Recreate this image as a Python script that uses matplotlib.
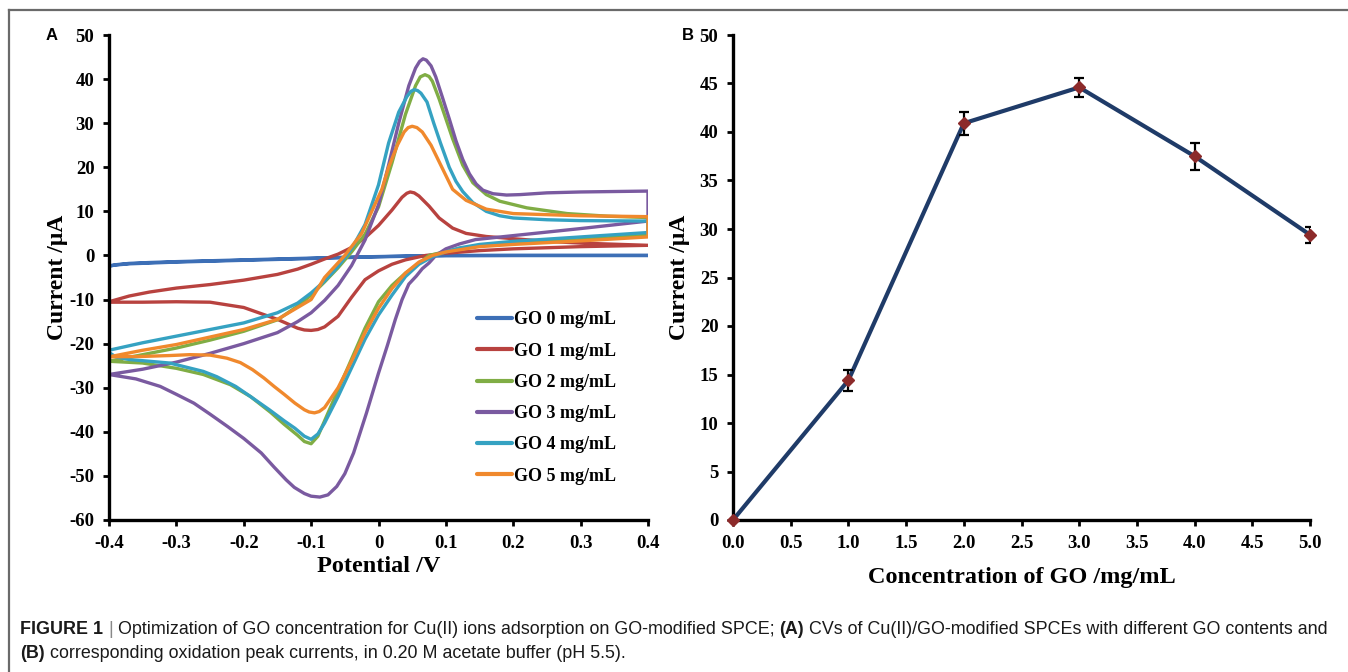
import numpy as np
import matplotlib
matplotlib.use("Agg")
import matplotlib.pyplot as plt
from matplotlib.lines import Line2D

plt.rcParams["axes.unicode_minus"] = False

# ---------- panel A: cyclic voltammograms (forward + reverse scan) ----------
labels_A = ["GO 0 mg/mL", "GO 1 mg/mL", "GO 2 mg/mL", "GO 3 mg/mL", "GO 4 mg/mL", "GO 5 mg/mL"]
colors_A = ["#3d6fb6", "#b8423f", "#80ad45", "#7a5aa0", "#35a2c2", "#f0892d"]

go0_fwd_E = [-0.40, -0.39, -0.37, -0.34, -0.30, -0.25, -0.20, -0.15, -0.10, -0.05, 0.00, 0.05, 0.10, 0.20, 0.30, 0.40]
go0_fwd_I = [-2.5, -2.1, -1.8, -1.6, -1.4, -1.2, -1.0, -0.8, -0.6, -0.4, -0.25, -0.1, 0.0, 0.0, 0.0, 0.0]
go0_rev_E = [0.40, 0.30, 0.20, 0.10, 0.00, -0.10, -0.20, -0.30, -0.37, -0.40]
go0_rev_I = [0.0, 0.0, 0.0, -0.05, -0.3, -0.7, -1.1, -1.5, -1.9, -2.3]

go1_fwd_E = [-0.40, -0.37, -0.34, -0.30, -0.25, -0.20, -0.15, -0.12, -0.10, -0.08, -0.06, -0.04, -0.02, 0.00,
             0.02, 0.035, 0.042, 0.047, 0.053, 0.06, 0.075, 0.09, 0.11, 0.13, 0.16, 0.20, 0.25, 0.30, 0.40]
go1_fwd_I = [-10.5, -9.2, -8.3, -7.4, -6.6, -5.6, -4.3, -3.1, -2.0, -0.8, 0.3, 1.8, 4.0, 6.8,
             10.3, 13.2, 14.1, 14.4, 14.2, 13.5, 11.2, 8.5, 6.2, 5.0, 4.3, 3.8, 3.2, 2.8, 2.3]
go1_rev_E = [0.40, 0.30, 0.20, 0.15, 0.10, 0.07, 0.04, 0.02, 0.00, -0.02, -0.04, -0.06, -0.08, -0.09, -0.10,
             -0.11, -0.12, -0.15, -0.20, -0.25, -0.30, -0.35, -0.40]
go1_rev_I = [2.3, 2.0, 1.5, 1.1, 0.5, 0.0, -1.0, -2.0, -3.5, -5.5, -9.5, -13.8, -16.2, -16.8, -17.0,
             -16.9, -16.5, -14.5, -11.8, -10.6, -10.5, -10.6, -10.6]

go2_fwd_E = [-0.40, -0.35, -0.30, -0.25, -0.20, -0.15, -0.12, -0.10, -0.08, -0.06, -0.04, -0.02, 0.00, 0.02,
             0.04, 0.055, 0.062, 0.069, 0.075, 0.08, 0.09, 0.10, 0.11, 0.125, 0.14, 0.16, 0.18, 0.22, 0.28,
             0.34, 0.40]
go2_fwd_I = [-24.0, -22.5, -21.0, -19.2, -17.2, -14.6, -11.5, -9.0, -6.0, -2.8, 0.8, 4.8, 11.0, 21.0,
             32.0, 38.5, 40.5, 41.0, 40.6, 39.5, 35.5, 31.0, 26.5, 20.5, 16.5, 13.8, 12.3, 10.8, 9.5,
             8.9, 8.6]
go2_rev_E = [0.40, 0.30, 0.20, 0.15, 0.12, 0.10, 0.075, 0.06, 0.04, 0.02, 0.00, -0.02, -0.04, -0.06, -0.08,
             -0.09, -0.10, -0.11, -0.12, -0.14, -0.16, -0.19, -0.22, -0.26, -0.30, -0.35, -0.40]
go2_rev_I = [4.6, 3.6, 2.8, 2.2, 1.6, 0.9, 0.0, -1.8, -4.0, -6.8, -10.5, -16.5, -23.5, -30.5, -37.5,
             -41.0, -42.7, -42.2, -40.8, -38.3, -35.6, -32.0, -29.3, -27.0, -25.6, -24.4, -24.0]

go3_fwd_E = [-0.40, -0.35, -0.30, -0.25, -0.20, -0.15, -0.12, -0.10, -0.08, -0.06, -0.04, -0.02, 0.00, 0.015,
             0.03, 0.045, 0.055, 0.061, 0.066, 0.071, 0.078, 0.085, 0.095, 0.105, 0.115, 0.125, 0.135, 0.145,
             0.155, 0.17, 0.19, 0.21, 0.25, 0.30, 0.40]
go3_fwd_I = [-27.0, -25.8, -24.2, -22.2, -20.0, -17.5, -15.0, -13.0, -10.2, -6.8, -2.3, 3.5, 11.5, 20.5,
             30.0, 38.5, 42.5, 44.0, 44.6, 44.3, 43.0, 40.5, 35.8, 31.0, 26.0, 21.8, 18.5, 16.2,
             14.8, 14.0, 13.7, 13.8, 14.2, 14.4, 14.6]
go3_rev_E = [0.40, 0.30, 0.20, 0.144, 0.12, 0.10, 0.085, 0.075, 0.065, 0.056, 0.045, 0.035, 0.025, 0.013, 0.00,
             -0.018, -0.037, -0.05, -0.062, -0.075, -0.087, -0.10, -0.11, -0.125, -0.137, -0.155, -0.174,
             -0.20, -0.224, -0.25, -0.274, -0.30, -0.324, -0.36, -0.40]
go3_rev_I = [7.8, 6.1, 4.5, 3.6, 2.6, 1.5, 0.0, -1.7, -3.0, -4.7, -6.5, -10.0, -14.5, -20.5, -26.7,
             -35.8, -44.8, -49.5, -52.4, -54.3, -54.8, -54.6, -54.0, -52.6, -50.9, -48.0, -44.8,
             -41.5, -38.8, -36.0, -33.5, -31.5, -29.7, -28.0, -27.0]

go4_fwd_E = [-0.40, -0.35, -0.30, -0.25, -0.20, -0.15, -0.12, -0.10, -0.08, -0.06, -0.04, -0.02, 0.00, 0.015,
             0.03, 0.042, 0.048, 0.053, 0.058, 0.063, 0.072, 0.082, 0.092, 0.105, 0.115, 0.125, 0.14, 0.16,
             0.18, 0.20, 0.25, 0.30, 0.40]
go4_fwd_I = [-21.5, -19.8, -18.3, -16.8, -15.3, -13.0, -10.8, -8.5, -5.8, -2.5, 1.5, 7.0, 16.0, 25.5,
             32.5, 36.0, 37.2, 37.6, 37.4, 36.8, 34.8, 30.0, 25.5, 20.0, 16.8, 14.5, 12.0, 10.0,
             9.0, 8.5, 8.1, 7.9, 7.8]
go4_rev_E = [0.40, 0.30, 0.20, 0.15, 0.12, 0.10, 0.08, 0.06, 0.04, 0.02, 0.00, -0.02, -0.04, -0.06, -0.08,
             -0.09, -0.10, -0.11, -0.124, -0.14, -0.162, -0.19, -0.212, -0.24, -0.26, -0.31, -0.37, -0.39, -0.40]
go4_rev_I = [5.2, 4.2, 3.2, 2.5, 1.7, 0.8, -0.3, -2.0, -4.8, -9.0, -13.5, -19.0, -25.5, -32.0, -38.0,
             -40.5, -41.7, -41.0, -39.2, -37.5, -35.0, -32.0, -29.7, -27.5, -26.3, -24.4, -23.6, -23.0, -22.0]

go5_fwd_E = [-0.40, -0.35, -0.30, -0.25, -0.20, -0.15, -0.12, -0.10, -0.08, -0.05, -0.025, -0.01, 0.005, 0.015,
             0.028, 0.038, 0.044, 0.05, 0.057, 0.065, 0.078, 0.094, 0.11, 0.13, 0.16, 0.20, 0.30, 0.40]
go5_fwd_I = [-23.0, -21.5, -20.2, -18.5, -16.8, -14.5, -11.8, -10.0, -5.0, 0.0, 5.0, 10.0, 15.0, 20.0,
             25.0, 28.0, 29.0, 29.3, 29.0, 28.0, 25.0, 20.0, 15.0, 12.5, 10.5, 9.5, 9.0, 8.8]
go5_rev_E = [0.40, 0.30, 0.20, 0.15, 0.10, 0.08, 0.06, 0.04, 0.02, 0.00, -0.02, -0.04, -0.06, -0.08, -0.088,
             -0.095, -0.103, -0.11, -0.124, -0.14, -0.155, -0.17, -0.187, -0.205, -0.225, -0.25, -0.28, -0.31,
             -0.35, -0.40]
go5_rev_I = [4.2, 3.3, 2.5, 2.0, 0.8, 0.0, -1.5, -4.0, -7.5, -12.0, -17.5, -24.0, -30.0, -34.5, -35.4,
             -35.7, -35.5, -35.0, -33.5, -31.5, -29.7, -27.8, -25.9, -24.3, -23.3, -22.6, -22.5, -22.7,
             -22.9, -23.0]

xticks_A = [-0.4, -0.3, -0.2, -0.1, 0.0, 0.1, 0.2, 0.3, 0.4]
xticklabels_A = ["-0.4", "-0.3", "-0.2", "-0.1", "0", "0.1", "0.2", "0.3", "0.4"]
yticks_A = [-60, -50, -40, -30, -20, -10, 0, 10, 20, 30, 40, 50]

# ---------- panel B: oxidation peak current vs GO concentration ----------
conc = [0.0, 1.0, 2.0, 3.0, 4.0, 5.0]
peak = [0.0, 14.4, 40.9, 44.6, 37.5, 29.4]
peak_err = [0.0, 1.1, 1.2, 1.0, 1.4, 0.8]

caption_1 = [("FIGURE 1", "bold"), ("|", "light"),
             ("Optimization of GO concentration for Cu(II) ions adsorption on GO-modified SPCE;", "normal"),
             ("(A)", "bold"), ("CVs of Cu(II)/GO-modified SPCEs with different GO contents and", "normal")]
caption_2 = [("(B)", "bold"), ("corresponding oxidation peak currents, in 0.20 M acetate buffer (pH 5.5).", "normal")]

curves = [
    (go0_fwd_E, go0_fwd_I, go0_rev_E, go0_rev_I),
    (go1_fwd_E, go1_fwd_I, go1_rev_E, go1_rev_I),
    (go2_fwd_E, go2_fwd_I, go2_rev_E, go2_rev_I),
    (go3_fwd_E, go3_fwd_I, go3_rev_E, go3_rev_I),
    (go4_fwd_E, go4_fwd_I, go4_rev_E, go4_rev_I),
    (go5_fwd_E, go5_fwd_I, go5_rev_E, go5_rev_I),
]

serif = "Liberation Serif"
sans = "Liberation Sans"

fig = plt.figure(figsize=(13.48, 6.72), dpi=100)
W, H = 1348.0, 672.0

def style_axes(ax):
    for s in ["top", "right"]:
        ax.spines[s].set_visible(False)
    for s in ["left", "bottom"]:
        ax.spines[s].set_linewidth(2.4)
    ax.tick_params(direction="out", length=4.5, width=2.0, labelsize=13.5)
    ax.tick_params(axis="y", pad=6)
    ax.tick_params(axis="x", pad=6)
    for t in ax.get_xticklabels() + ax.get_yticklabels():
        t.set_fontfamily(serif)
        t.set_fontweight("bold")

# panel A
axA = fig.add_axes([109 / W, 1 - 520 / H, (648 - 109) / W, (520 - 35) / H])
for (fE, fI, rE, rI), c, lab in zip(curves, colors_A, labels_A):
    E = np.concatenate([fE, rE])
    I = np.concatenate([fI, rI])
    axA.plot(E, I, color=c, lw=2.4, solid_joinstyle="round", solid_capstyle="round", label=lab)
axA.set_xlim(-0.4, 0.4)
axA.set_ylim(-60, 50)
axA.set_xticks(xticks_A)
axA.set_xticklabels(xticklabels_A)
axA.set_yticks(yticks_A)
style_axes(axA)
axA.set_xlabel("Potential /V", fontfamily=serif, fontweight="bold", fontsize=17.5, labelpad=3)
axA.set_ylabel("Current /μA", fontfamily=serif, fontweight="bold", fontsize=17, labelpad=1)
leg = axA.legend(loc="upper left", bbox_to_anchor=(0.67, 0.445), frameon=False,
                 prop={"family": serif, "weight": "bold", "size": 13},
                 handlelength=1.9, handletextpad=0.15, labelspacing=0.79, borderaxespad=0)
for h in leg.get_lines():
    h.set_linewidth(3)

# panel B
axB = fig.add_axes([733 / W, 1 - 520 / H, (1310 - 733) / W, (520 - 35) / H])
axB.plot(conc, peak, color="#1f3b68", lw=3.0, zorder=2)
axB.errorbar(conc, peak, yerr=peak_err, fmt="none", ecolor="black", elinewidth=1.6,
             capsize=3.5, capthick=1.6, zorder=3)
axB.plot(conc, peak, ls="none", marker="D", ms=6.5, color="#8c2a2a", zorder=4, clip_on=False)
axB.set_xlim(0, 5)
axB.set_ylim(0, 50)
axB.set_xticks(np.arange(0, 5.01, 0.5))
axB.set_xticklabels(["%.1f" % v for v in np.arange(0, 5.01, 0.5)])
axB.set_yticks(np.arange(0, 51, 5))
style_axes(axB)
axB.set_xlabel("Concentration of GO /mg/mL", fontfamily=serif, fontweight="bold", fontsize=17.5, labelpad=11)
axB.set_ylabel("Current /μA", fontfamily=serif, fontweight="bold", fontsize=17, labelpad=7)

# panel letters
fig.text(52 / W, 1 - 36 / H, "A", fontfamily=sans, fontweight="bold", fontsize=12, ha="center", va="center")
fig.text(688 / W, 1 - 36 / H, "B", fontfamily=sans, fontweight="bold", fontsize=12, ha="center", va="center")

# frame lines
fig.add_artist(Line2D([9 / W, 9 / W], [0, 1 - 10 / H], transform=fig.transFigure, color="#6a6a6a", lw=1.6))
fig.add_artist(Line2D([9 / W, 1], [1 - 10 / H, 1 - 10 / H], transform=fig.transFigure, color="#6a6a6a", lw=1.6))

# caption: bold and regular pieces laid out one after another on a shared baseline
cap_size = 12.9
renderer = fig.canvas.get_renderer()

def text_width(s, wt):
    t = fig.text(0, 0, s, fontfamily=sans, fontweight=wt, fontsize=cap_size)
    w = t.get_window_extent(renderer).width
    t.remove()
    return w

space_w = text_width("a a", "normal") - text_width("aa", "normal")
for pieces, yb in [(caption_1, 1 - 634 / H), (caption_2, 1 - 658 / H)]:
    x = 20.0
    for txt, wt in pieces:
        col = "#888888" if wt == "light" else "#1a1a1a"
        w = "normal" if wt == "light" else wt
        fig.text(x / W, yb, txt, fontfamily=sans, fontweight=w, fontsize=cap_size,
                 va="baseline", color=col)
        x += text_width(txt, w) + space_w

fig.savefig("out.png", dpi=100)
